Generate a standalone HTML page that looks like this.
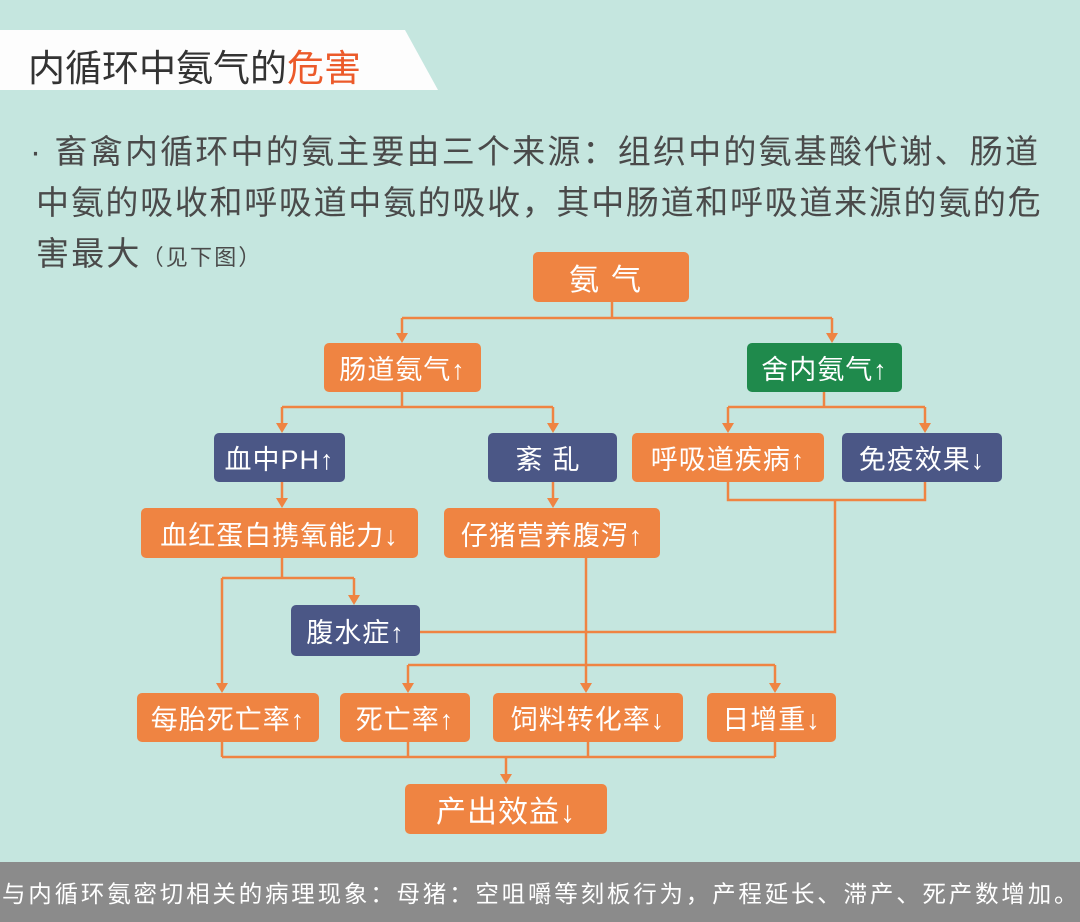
<!DOCTYPE html><html><head><meta charset="utf-8"><style>
body{margin:0;width:1080px;height:922px;background:#c5e6df;position:relative;overflow:hidden;font-family:"Liberation Sans","Noto Sans CJK SC",sans-serif}
.b{position:absolute;color:#fff;display:flex;align-items:center;justify-content:center;border-radius:5px;font-size:27px;letter-spacing:1px;white-space:nowrap}
.o{background:#ef8442}.n{background:#4b5786}.g{background:#1f8a4c}
.t{position:absolute;white-space:nowrap;color:#4a4a4a}
</style></head><body>
<svg width="1080" height="922" style="position:absolute;left:0;top:0">
<polygon points="0,30 405,30 438,90 0,90" fill="#fdfdfd"/>
<g stroke="#ef8442" stroke-width="2.5" fill="none">
<path d="M612 302V318M402 318H832M402 318V335M832 318V335"/>
<path d="M402 392V407M282 407H553M282 407V425M553 407V425"/>
<path d="M824 392V407M728 407H925M728 407V425M925 407V425"/>
<path d="M282 482V500M553 482V500"/>
<path d="M282 558V578M222 578H354M354 578V597M222 578V685"/>
<path d="M586 558V685M408 665H775M408 665V685M775 665V685"/>
<path d="M728 482V500H925V482M835 500V632H420"/>
<path d="M222 742V757M408 742V757M588 742V757M775 742V757M222 757H775M506 757V776"/>
</g>
<g fill="#ef8442">
<path d="M396 333H408L402 343Z"/><path d="M826 333H838L832 343Z"/>
<path d="M276 423H288L282 433Z"/><path d="M547 423H559L553 433Z"/>
<path d="M722 423H734L728 433Z"/><path d="M919 423H931L925 433Z"/>
<path d="M276 498H288L282 508Z"/><path d="M547 498H559L553 508Z"/>
<path d="M348 595H360L354 605Z"/><path d="M216 683H228L222 693Z"/>
<path d="M580 683H592L586 693Z"/><path d="M402 683H414L408 693Z"/><path d="M769 683H781L775 693Z"/>
<path d="M500 774H512L506 784Z"/>
</g></svg>
<div class="t" style="left:28px;top:38px;font-size:37px;color:#333">内循环中氨气的<span style="color:#ec5a2a">危害</span></div>
<div class="t" style="left:30px;top:126px;font-size:33px;letter-spacing:2.2px;line-height:51px">· 畜禽内循环中的氨主要由三个来源：组织中的氨基酸代谢、肠道<br><span style="margin-left:6px;letter-spacing:1.7px">中氨的吸收和呼吸道中氨的吸收，其中肠道和呼吸道来源的氨的危</span><br><span style="margin-left:6px">害最大<span style="font-size:22px">（见下图）</span></span></div>
<div class="b o" style="left:533px;top:252px;width:156px;height:50px;font-size:30px;letter-spacing:12px">氨气</div>
<div class="b o" style="left:324px;top:343px;width:157px;height:49px">肠道氨气↑</div>
<div class="b g" style="left:747px;top:343px;width:155px;height:49px">舍内氨气↑</div>
<div class="b n" style="left:214px;top:433px;width:131px;height:49px">血中PH↑</div>
<div class="b n" style="left:488px;top:433px;width:129px;height:49px;letter-spacing:10px">紊乱</div>
<div class="b o" style="left:632px;top:433px;width:192px;height:49px">呼吸道疾病↑</div>
<div class="b n" style="left:842px;top:433px;width:160px;height:49px">免疫效果↓</div>
<div class="b o" style="left:141px;top:508px;width:277px;height:50px">血红蛋白携氧能力↓</div>
<div class="b o" style="left:444px;top:508px;width:216px;height:50px">仔猪营养腹泻↑</div>
<div class="b n" style="left:291px;top:605px;width:129px;height:51px">腹水症↑</div>
<div class="b o" style="left:137px;top:693px;width:182px;height:49px">每胎死亡率↑</div>
<div class="b o" style="left:340px;top:693px;width:130px;height:49px">死亡率↑</div>
<div class="b o" style="left:493px;top:693px;width:190px;height:49px">饲料转化率↓</div>
<div class="b o" style="left:707px;top:693px;width:129px;height:49px">日增重↓</div>
<div class="b o" style="left:405px;top:784px;width:202px;height:50px;font-size:30px">产出效益↓</div>
<div style="position:absolute;left:0;top:862px;width:1080px;height:60px;background:#8b8b8b"></div>
<div class="t" style="left:2px;top:875px;font-size:23.5px;letter-spacing:2.8px;color:#fff">与内循环氨密切相关的病理现象：母猪：空咀嚼等刻板行为，产程延长、滞产、死产数增加。</div>
</body></html>
